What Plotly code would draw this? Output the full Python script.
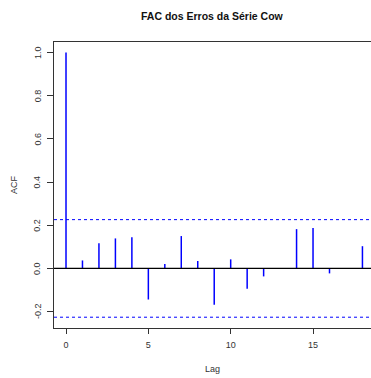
import plotly.graph_objects as go

# Sample autocorrelations of the model residuals
lags = list(range(0, 19))
acf_vals = [1.0, 0.037, 0.117, 0.139, 0.145, -0.144, 0.020, 0.150, 0.034,
            -0.168, 0.042, -0.094, -0.037, 0.002, 0.182, 0.187, -0.023, 0.002, 0.103]
conf_bound = 0.226  # approx. 1.96 / sqrt(n)

x_ticks = [0, 5, 10, 15]
y_ticks = [-0.2, 0.0, 0.2, 0.4, 0.6, 0.8, 1.0]
y_tick_text = ["-0.2", "0.0", "0.2", "0.4", "0.6", "0.8", "1.0"]

FONT = "Liberation Sans, Arial, Helvetica, sans-serif"
AXIS_COL = "#333333"

# vertical spikes from zero to each autocorrelation
sx, sy = [], []
for k, v in zip(lags, acf_vals):
    sx += [k, k, None]
    sy += [0, v, None]

fig = go.Figure()
fig.add_trace(go.Scatter(x=sx, y=sy, mode="lines",
                         line=dict(color="#0000ff", width=1.5),
                         hoverinfo="skip", showlegend=False))

x_range = [-0.729, 18.52]
# zero line and confidence bounds
fig.add_trace(go.Scatter(x=x_range, y=[0, 0], mode="lines",
                         line=dict(color="black", width=1.2),
                         hoverinfo="skip", showlegend=False))
for b in (conf_bound, -conf_bound):
    fig.add_trace(go.Scatter(x=x_range, y=[b, b], mode="lines",
                             line=dict(color="#0000ff", width=1, dash="3px,3px"),
                             hoverinfo="skip", showlegend=False))

# rotated y tick labels, R-style (parallel to the axis)
y_label_notes = [
    dict(text=t, xref="paper", yref="y", x=0, y=v, xshift=-16.5,
         xanchor="center", yanchor="middle", textangle=-90, showarrow=False,
         font=dict(size=9, color=AXIS_COL, family=FONT))
    for v, t in zip(y_ticks, y_tick_text)
]

fig.update_layout(
    width=371, height=378,
    margin=dict(l=54, r=0, t=42, b=50),
    paper_bgcolor="white", plot_bgcolor="white",
    font=dict(family=FONT, size=9, color=AXIS_COL),
    showlegend=False,
    xaxis=dict(range=x_range, tickvals=x_ticks, ticks="outside", ticklen=5,
               tickwidth=1, tickcolor=AXIS_COL, showgrid=False, zeroline=False,
               showline=True, linecolor=AXIS_COL, linewidth=1.2, mirror=True,
               ticklabelstandoff=3,
               tickfont=dict(size=9, color=AXIS_COL)),
    yaxis=dict(range=[-0.276, 1.049], tickvals=y_ticks, showticklabels=False,
               ticks="outside", ticklen=6, tickwidth=1,
               tickcolor=AXIS_COL, showgrid=False, zeroline=False,
               showline=True, linecolor=AXIS_COL, linewidth=1.2),
    annotations=[
        dict(text="<b>FAC dos Erros da Série Cow</b>", xref="paper", yref="paper",
             x=0.5, y=1, yshift=26, xanchor="center", yanchor="middle",
             showarrow=False, font=dict(size=10.5, color="#111111", family=FONT)),
        dict(text="Lag", xref="paper", yref="paper", x=0.5, y=0, yshift=-41,
             xanchor="center", yanchor="middle", showarrow=False,
             font=dict(size=9, color=AXIS_COL, family=FONT)),
        dict(text="ACF", xref="paper", yref="paper", x=0, y=0.5, xshift=-40,
             xanchor="center", yanchor="middle", textangle=-90, showarrow=False,
             font=dict(size=9, color=AXIS_COL, family=FONT)),
    ] + y_label_notes,
)

fig.write_html("out.html")
